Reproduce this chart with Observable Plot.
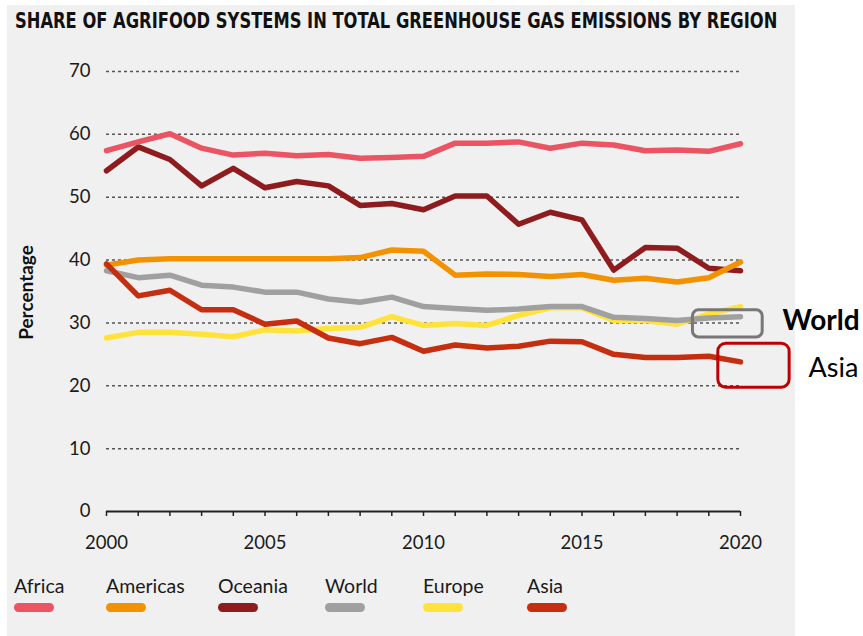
<!DOCTYPE html>
<html>
<head>
<meta charset="utf-8">
<script src="https://cdn.jsdelivr.net/npm/d3@7"></script>
<script src="https://cdn.jsdelivr.net/npm/@observablehq/plot@0.6"></script>
<style>
  body { margin: 0; background: #ffffff; }
  #wrap { position: relative; width: 863px; height: 636px; overflow: hidden; font-family: Lato, "Open Sans", sans-serif; }
  #bg { position: absolute; left: 7px; top: 5px; width: 788px; height: 631px; background: #f0f0f0; }
  #title { position: absolute; left: 0; top: 0; overflow: visible; }
  #chart { position: absolute; left: 0; top: 0; }
  #legend { position: absolute; left: 0; top: 574px; width: 863px; height: 50px; }
  .item { position: absolute; top: 0; }
  .item .lab { font-size: 19.5px; color: #1a1a1a; line-height: 24px; white-space: nowrap; }
  .item .sw { width: 40px; height: 9px; border-radius: 5px; margin-top: 5px; }
</style>
</head>
<body>
<div id="wrap">
  <div id="bg"></div>
  <svg id="title" width="863" height="46">
    <text id="ttext" x="0" y="0" font-family="'Liberation Sans Narrow', 'DejaVu Sans Condensed', 'DejaVu Sans', sans-serif" font-stretch="condensed" font-weight="bold" font-size="21" fill="#111">SHARE OF AGRIFOOD SYSTEMS IN TOTAL GREENHOUSE GAS EMISSIONS BY REGION</text>
  </svg>
  <div id="chart"></div>
  <div id="legend"></div>
</div>
<script>
// ---- data ----
const years = [2000,2001,2002,2003,2004,2005,2006,2007,2008,2009,2010,2011,2012,2013,2014,2015,2016,2017,2018,2019,2020];
const africa   = [57.4,58.8,60.1,57.8,56.7,57.0,56.6,56.8,56.2,56.3,56.5,58.6,58.6,58.8,57.8,58.6,58.3,57.4,57.5,57.3,58.5];
const americas = [39.2,40.0,40.2,40.2,40.2,40.2,40.2,40.2,40.4,41.6,41.4,37.6,37.8,37.7,37.4,37.7,36.8,37.1,36.5,37.2,39.7];
const oceania  = [54.2,58.0,56.0,51.8,54.6,51.5,52.5,51.8,48.7,49.0,48.0,50.2,50.2,45.7,47.6,46.4,38.4,42.0,41.9,38.7,38.3];
const world    = [38.3,37.2,37.6,36.0,35.7,34.9,34.9,33.8,33.3,34.1,32.6,32.3,32.0,32.2,32.6,32.6,30.9,30.7,30.4,30.8,31.0];
const europe   = [27.6,28.5,28.5,28.2,27.8,28.9,28.7,29.1,29.3,31.0,29.6,29.9,29.6,31.2,32.4,32.4,30.4,30.4,29.8,31.4,32.6];
const asia     = [39.4,34.3,35.2,32.1,32.1,29.8,30.3,27.6,26.7,27.7,25.5,26.5,26.0,26.3,27.1,27.0,25.0,24.5,24.5,24.7,23.8];
const legendNames  = ["Africa","Americas","Oceania","World","Europe","Asia"];
const legendColors = ["#ea5463","#f39200","#8e1c1f","#a0a0a0","#ffe33b","#c52e0e"];
const yTicks = [0,10,20,30,40,50,60,70];
const xLabels = [2000,2005,2010,2015,2020];

// ---- title: condense horizontally to the target width ----
(function fitTitle() {
  const t = document.getElementById("ttext");
  const target = 763;
  const w = t.getComputedTextLength();
  const sx = w > 0 ? Math.min(1, target / w) : 1;
  t.setAttribute("transform", `translate(15,28) scale(${sx.toFixed(4)},1)`);
})();

// ---- build table (draw order) ----
const seriesMap = {Africa: africa, Americas: americas, Oceania: oceania, World: world, Europe: europe, Asia: asia};
const drawOrder = ["Europe","World","Oceania","Americas","Africa","Asia"];
const rows = [];
drawOrder.forEach(name => years.forEach((yr, i) => rows.push({region: name, year: yr, value: seriesMap[name][i]})));

const last = years[years.length - 1];
const worldLast = world[world.length - 1];
const asiaLast = asia[asia.length - 1];

const chart = Plot.plot({
  width: 863,
  height: 636,
  marginLeft: 106,
  marginRight: 123,
  marginTop: 71,
  marginBottom: 125,
  style: {background: "transparent", fontFamily: "Lato, 'Open Sans', sans-serif", fontSize: "18px", color: "#1a1a1a", overflow: "visible"},
  x: {domain: [years[0], last]},
  y: {domain: [0, 70]},
  color: {domain: legendNames, range: legendColors},
  marks: [
    Plot.ruleY(yTicks.filter(d => d > 0), {stroke: "#555", strokeWidth: 1.5, strokeDasharray: "3,3"}),
    Plot.ruleY([0], {stroke: "#222", strokeWidth: 2}),
    Plot.axisX({ticks: years, tickSize: 5, tickPadding: 19, stroke: "#222", strokeWidth: 1.5,
                tickFormat: d => xLabels.includes(d) ? String(d) : "", label: null, fontSize: 18.5}),
    Plot.axisY({ticks: yTicks, tickSize: 0, tickPadding: 16, label: null, fontSize: 18.5}),
    Plot.text(["Percentage"], {frameAnchor: "left", textAnchor: "middle", dx: -80, dy: 1, rotate: -90, text: d => d,
                fontWeight: "bold", fontSize: 19, fill: "#111"}),
    Plot.line(rows, {x: "year", y: "value", z: "region", stroke: "region", strokeWidth: 5.5,
                strokeLinejoin: "round", strokeLinecap: "round"}),
    Plot.rect([{x1: last - 1.5, x2: last + 0.7, y1: worldLast - 3.3, y2: worldLast + 1.0}],
              {x1: "x1", x2: "x2", y1: "y1", y2: "y2", fill: "none", stroke: "#777", strokeWidth: 3, rx: 6}),
    Plot.rect([{x1: last - 0.7, x2: last + 1.55, y1: asiaLast - 4.1, y2: asiaLast + 2.9}],
              {x1: "x1", x2: "x2", y1: "y1", y2: "y2", fill: "none", stroke: "#c00000", strokeWidth: 3, rx: 8}),
    Plot.text([{t: "World", x: last, y: worldLast}], {x: "x", y: "y", text: "t", dx: 42, dy: 4, textAnchor: "start",
              fontWeight: "bold", fontSize: 28, fill: "#000", fontFamily: "Lato, sans-serif"}),
    Plot.text([{t: "Asia", x: last, y: asiaLast}], {x: "x", y: "y", text: "t", dx: 68, dy: 6, textAnchor: "start",
              fontSize: 27, fill: "#000", fontFamily: "Lato, sans-serif"})
  ]
});
document.getElementById("chart").appendChild(chart);

// ---- legend ----
const legendLeft = [14, 106, 218, 325, 423, 527];
const leg = document.getElementById("legend");
legendNames.forEach((n, i) => {
  const it = document.createElement("div");
  it.className = "item";
  it.style.left = legendLeft[i] + "px";
  it.innerHTML = `<div class="lab">${n}</div><div class="sw" style="background:${legendColors[i]}"></div>`;
  leg.appendChild(it);
});
</script>
</body>
</html>
